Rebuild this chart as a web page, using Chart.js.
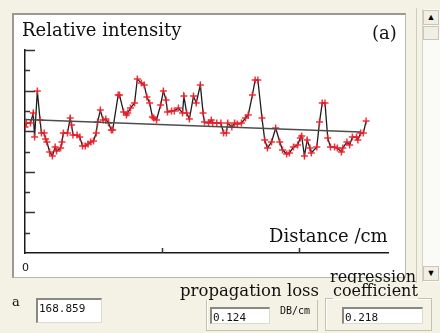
<!DOCTYPE html>
<html>
<head>
<meta charset="utf-8">
<script src="https://cdn.jsdelivr.net/npm/chart.js@4.4.1/dist/chart.umd.min.js"></script>
<style>
  body { margin: 0; width: 440px; height: 333px; background: #f4f1e5; position: relative; overflow: hidden; }
  .abs { position: absolute; }
  .serif { font-family: "DejaVu Serif", serif; color: #111; white-space: nowrap; line-height: 1; }
  #panel { left: 12px; top: 13px; width: 391px; height: 262px; background: #fff;
           border-top: 2px solid #9c9a90; border-left: 2px solid #9c9a90;
           border-right: 1px solid #b9b7ac; border-bottom: 1px solid #b9b7ac; }
  #chartBox { left: 0; top: 0; width: 440px; height: 333px; }
  .box { background: #fff; border-top: 2px solid #8a8880; border-left: 2px solid #8a8880;
         border-right: 1px solid #dcdad0; border-bottom: 1px solid #dcdad0;
         font-family: "DejaVu Sans Mono", monospace; font-size: 11px; color: #111; padding: 2px 0 0 1px; box-sizing: border-box; }
  .group { border: 1px solid #c4c1b2; box-shadow: inset 1px 1px 0 #fff; }
  .btn { background: #f1efe4; border: 1px solid #c9c6b8; box-sizing: border-box; font-size: 9px; text-align: center; line-height: 13px; color: #000; }
</style>
</head>
<body>
<div id="panel" class="abs"></div>

<!-- scrollbar -->
<div class="abs" style="left:416px;top:8px;width:1px;height:276px;background:#cfccbe"></div>
<div class="abs" style="left:422px;top:9px;width:17px;height:273px;background:#fafaf6;border-left:1px solid #d6d3c6"></div>
<div class="abs btn" style="left:423px;top:10px;width:16px;height:15px">&#9650;</div>
<div class="abs btn" style="left:423px;top:26px;width:16px;height:14px"></div>
<div class="abs btn" style="left:423px;top:266px;width:16px;height:15px">&#9660;</div>

<div id="chartBox" class="abs"><canvas id="intensityChart" width="440" height="333"></canvas></div>

<div class="abs serif" style="left:22px;top:21px;font-size:18px">Relative intensity</div>
<div class="abs serif" style="left:372px;top:24px;font-size:18px">(a)</div>
<div class="abs serif" style="left:269px;top:227px;font-size:18px">Distance /cm</div>
<div class="abs" style="left:22px;top:261px;font:11px 'DejaVu Sans',sans-serif;color:#111">0</div>

<!-- bottom controls -->
<div class="abs serif" style="left:12px;top:295px;font-size:13px">a</div>
<div class="abs box" style="left:36px;top:298px;width:66px;height:25px">168.859</div>

<div class="abs group" style="left:206px;top:298px;width:110px;height:31px"></div>
<div class="abs serif" style="left:180px;top:283px;font-size:16.5px;background:#f4f1e5">propagation loss</div>
<div class="abs box" style="left:210px;top:307px;width:60px;height:17px">0.124</div>
<div class="abs" style="left:280px;top:305px;font:10px 'DejaVu Sans Mono',monospace;color:#111">DB/cm</div>

<div class="abs group" style="left:325px;top:298px;width:105px;height:31px"></div>
<div class="abs serif" style="left:330px;top:269px;font-size:16px">regression</div>
<div class="abs serif" style="left:333px;top:283px;font-size:16px;background:#f4f1e5">coefficient</div>
<div class="abs box" style="left:342px;top:307px;width:81px;height:17px">0.218</div>

<script>
// measured profile along the waveguide
const distance = [
  0.0, 0.1, 0.4, 0.6, 0.7, 0.9, 1.1, 1.2, 1.4, 1.5,
  1.6, 1.8, 2.0, 2.2, 2.3, 2.6, 2.7, 2.8, 3.1, 3.3,
  3.4, 3.5, 3.8, 4.0, 4.2, 4.4, 4.6, 4.8, 5.0, 5.2,
  5.3, 5.5, 5.7, 5.9, 6.1, 6.3, 6.4, 6.8, 6.9, 7.2,
  7.4, 7.5, 7.7, 8.0, 8.2, 8.5, 8.7, 8.9, 9.1, 9.3,
  9.4, 9.6, 9.9, 10.1, 10.3, 10.4, 10.7, 10.9, 11.2, 11.5,
  11.6, 11.8, 12.0, 12.3, 12.5, 12.8, 13.0, 13.1, 13.4, 13.6,
  13.7, 14.0, 14.3, 14.5, 14.7, 14.8, 15.1, 15.3, 15.5, 15.8,
  16.1, 16.3, 16.6, 16.8, 17.0, 17.3, 17.5, 17.7, 18.0, 18.3,
  18.6, 18.8, 19.1, 19.3, 19.6, 19.9, 20.1, 20.2, 20.4, 20.6,
  20.8, 20.9, 21.3, 21.5, 21.7, 21.9, 22.1, 22.3, 22.6, 22.8,
  23.1, 23.2, 23.5, 23.7, 23.9, 24.2, 24.3, 24.5, 24.7, 24.9
];
const intensity = [
  6.21, 6.40, 6.40, 6.90, 5.71, 7.98, 6.55, 5.91, 5.91, 5.62,
  5.47, 4.98, 4.78, 5.22, 5.02, 5.17, 5.47, 5.91, 5.91, 6.65,
  6.31, 5.81, 5.81, 5.71, 5.27, 5.27, 5.37, 5.47, 5.52, 5.91,
  6.45, 7.04, 6.55, 6.60, 6.40, 6.06, 6.06, 7.78, 7.78, 6.95,
  6.80, 6.90, 7.14, 7.39, 8.57, 8.37, 8.28, 7.68, 7.39, 6.70,
  6.65, 6.55, 7.29, 7.98, 7.54, 6.95, 7.00, 7.00, 7.14, 6.90,
  7.73, 6.90, 6.60, 7.73, 7.39, 8.28, 6.90, 6.45, 6.40, 6.55,
  6.40, 6.40, 6.40, 5.91, 5.91, 6.40, 6.21, 6.40, 6.35, 6.40,
  6.65, 6.80, 7.78, 8.52, 8.52, 6.65, 5.57, 5.17, 5.47, 6.16,
  5.47, 5.07, 4.88, 4.93, 5.22, 5.32, 5.67, 5.76, 4.78, 5.57,
  5.17, 4.93, 5.22, 6.45, 7.39, 7.39, 5.67, 5.22, 5.22, 5.17,
  4.98, 5.17, 5.47, 5.32, 5.71, 5.71, 5.57, 5.91, 5.91, 6.50
];

// fitted regression line, end points
const fitX = [0, 24.5];
const fitY = [6.58, 5.96];

const X_MAX = 26.5;
const Y_MAX = 10;
const xTicks = [10, 20];
const yTicks = [1, 2, 3, 4, 5, 6, 7, 8, 9, 10];

// ticks drawn inside the plot, long on even values
const innerTicks = {
  id: 'innerTicks',
  afterDraw(chart) {
    const { ctx, scales: { x, y } } = chart;
    ctx.save();
    ctx.strokeStyle = '#333';
    ctx.lineWidth = 1.5;
    ctx.beginPath();
    yTicks.forEach(v => {
      const py = Math.round(y.getPixelForValue(v)) + 0.5;
      const len = v % 2 === 0 ? 10 : 5;
      ctx.moveTo(x.left, py);
      ctx.lineTo(x.left + len, py);
    });
    xTicks.forEach(v => {
      const px = Math.round(x.getPixelForValue(v)) + 0.5;
      ctx.moveTo(px, y.bottom);
      ctx.lineTo(px, y.bottom - 5);
    });
    ctx.stroke();
    ctx.restore();
  }
};

const ctx = document.getElementById('intensityChart').getContext('2d');

new Chart(ctx, {
  type: 'line',
  data: {
    datasets: [{
      label: 'fit',
      data: fitX.map((d, i) => ({ x: d, y: fitY[i] })),
      borderColor: '#4d4d4d',
      borderWidth: 1.5,
      pointRadius: 0,
      tension: 0
    }, {
      label: 'intensity',
      data: distance.map((d, i) => ({ x: d, y: intensity[i] })),
      borderColor: '#1c1c1c',
      borderWidth: 1.3,
      pointStyle: 'cross',
      pointRadius: 3.5,
      pointBorderColor: 'rgba(238, 30, 40, 0.9)',
      pointBorderWidth: 1.5,
      tension: 0
    }]
  },
  options: {
    responsive: false,
    animation: false,
    layout: { padding: { left: 25, right: 52, top: 50, bottom: 80 } },
    plugins: {
      legend: { display: false },
      tooltip: { enabled: false }
    },
    scales: {
      x: {
        type: 'linear',
        min: 0,
        max: X_MAX,
        ticks: { display: false },
        grid: { display: false, drawTicks: false },
        border: { display: true, color: '#1a1a1a', width: 1.5 },
        afterFit: s => { s.height = 0; }
      },
      y: {
        min: 0,
        max: Y_MAX,
        ticks: { display: false },
        grid: { display: false, drawTicks: false },
        border: { display: true, color: '#1a1a1a', width: 1.5 },
        afterFit: s => { s.width = 0; }
      }
    }
  },
  plugins: [innerTicks]
});
</script>
</body>
</html>
